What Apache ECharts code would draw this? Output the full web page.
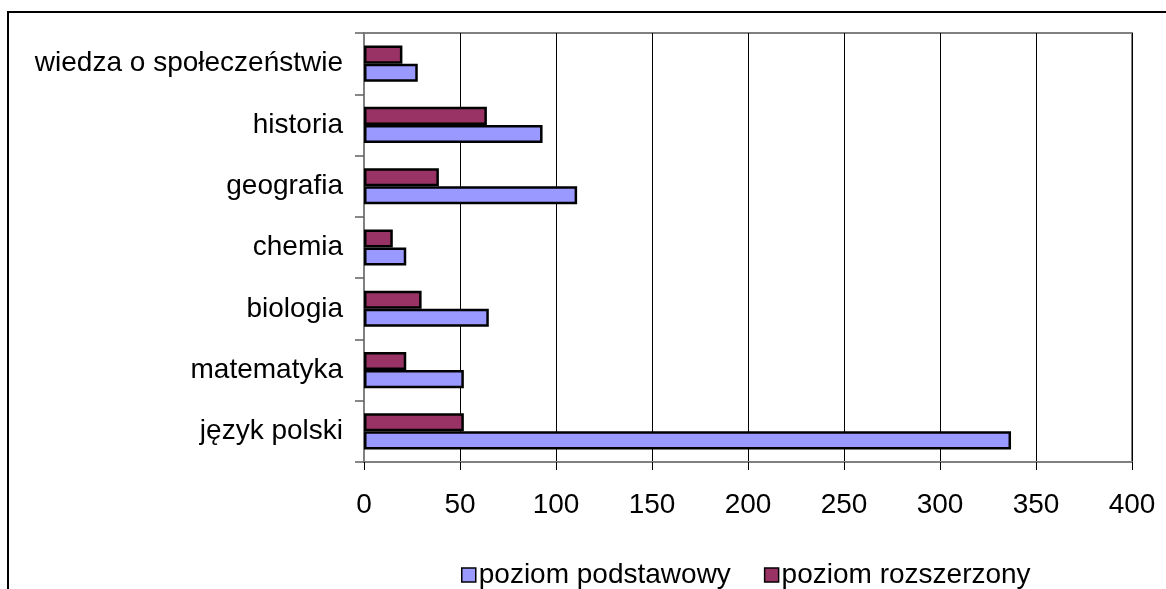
<!DOCTYPE html>
<html>
<head>
<meta charset="utf-8">
<script src="https://cdn.jsdelivr.net/npm/echarts@6/dist/echarts.min.js"></script>
<style>
html,body{margin:0;padding:0;background:#fff;}
#chart{width:1166px;height:589px;}
</style>
</head>
<body>
<div id="chart"></div>
<script>
const categories = ['język polski','matematyka','biologia','chemia','geografia','historia','wiedza o społeczeństwie'];
const podstawowy = [337, 52, 65, 22, 111, 93, 28];
const rozszerzony = [52, 22, 30, 15, 39, 64, 20];
const xTicks = [0, 50, 100, 150, 200, 250, 300, 350, 400];
const seriesNames = ['poziom podstawowy', 'poziom rozszerzony'];

const FONT = '"Liberation Sans", Arial, sans-serif';
const chart = echarts.init(document.getElementById('chart'), null, {renderer: 'canvas'});
chart.setOption({
  backgroundColor: '#ffffff',
  animation: false,
  graphic: [{
    type: 'rect',
    shape: {x: 8, y: 12, width: 1300, height: 700},
    style: {fill: 'none', stroke: '#000', lineWidth: 2},
    silent: true, z: -10
  }],
  grid: {
    left: 364, right: 34, top: 33, bottom: 127,
    show: true, borderColor: '#808080', borderWidth: 2, backgroundColor: 'transparent'
  },
  legend: {
    data: seriesNames,
    left: 456, top: 556,
    itemWidth: 14, itemHeight: 14, itemGap: 33,
    icon: 'rect',
    textStyle: {fontFamily: FONT, fontSize: 28, color: '#000', padding: [0,0,0,-2]},
    itemStyle: {borderColor: '#000', borderWidth: 1.5}
  },
  xAxis: {
    type: 'value',
    min: xTicks[0], max: xTicks[xTicks.length-1], interval: 50,
    axisLine: {show: true, lineStyle: {color: '#808080', width: 2}},
    axisTick: {show: true, length: 8, lineStyle: {color: '#000', width: 1}},
    axisLabel: {fontFamily: FONT, fontSize: 28, color: '#000', margin: 29},
    splitLine: {show: true, lineStyle: {color: '#000', width: 1}}
  },
  yAxis: {
    type: 'category',
    data: categories,
    axisLine: {show: true, lineStyle: {color: '#808080', width: 2}},
    axisTick: {show: true, length: 9, lineStyle: {color: '#606060', width: 1.5}},
    axisLabel: {fontFamily: FONT, fontSize: 28, color: '#000', margin: 21},
    splitLine: {show: false}
  },
  series: [
    {
      name: seriesNames[1], type: 'bar', data: rozszerzony,
      barGap: '0%', barCategoryGap: '41%',
      itemStyle: {color: '#993366', borderColor: '#000', borderWidth: 2.5}
    },
    {
      name: seriesNames[0], type: 'bar', data: podstawowy,
      barGap: '0%', barCategoryGap: '41%',
      itemStyle: {color: '#9999FF', borderColor: '#000', borderWidth: 2.5}
    }
  ]
});
</script>
</body>
</html>
